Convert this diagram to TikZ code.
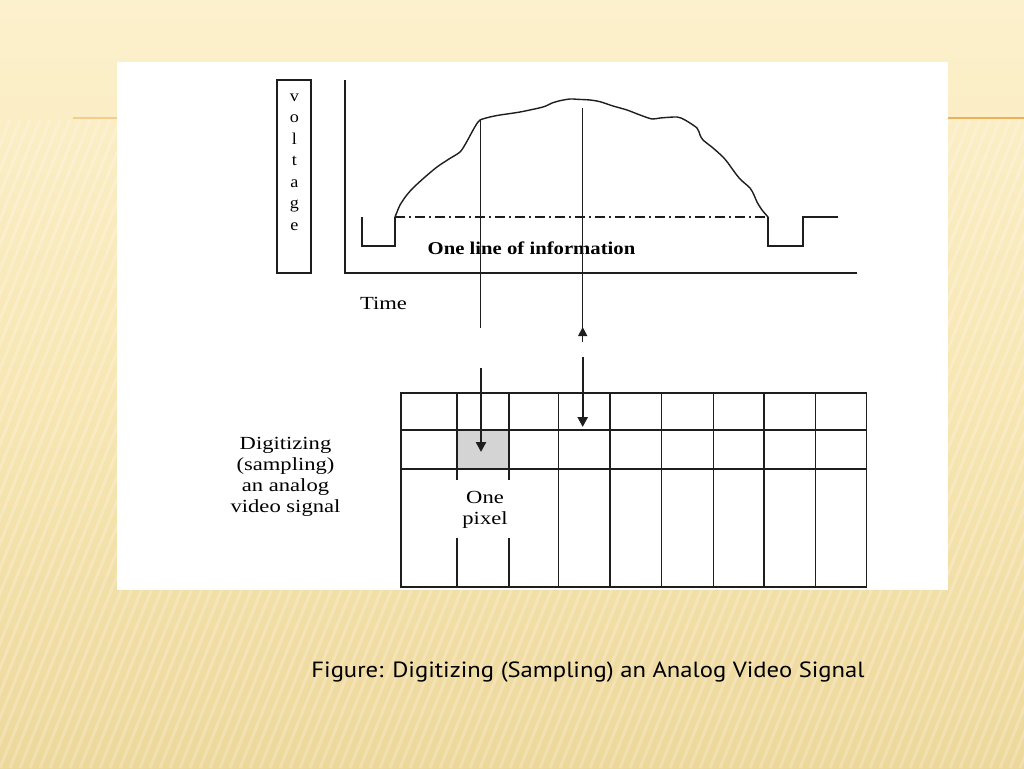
\documentclass[tikz,border=0pt]{standalone}
\usepackage{fontspec}
\setmainfont{Liberation Serif}
\newfontfamily\capfont{PT Sans}
\usetikzlibrary{arrows.meta}
\definecolor{bgtop}{HTML}{FCF1CD}
\definecolor{bgmid}{HTML}{F8E7B4}
\definecolor{bgbot}{HTML}{EDD89B}
\definecolor{rule}{HTML}{EBB25C}
\definecolor{ink}{HTML}{1E1E1E}
\definecolor{pixfill}{HTML}{D4D4D4}
\tikzset{
  thin ink/.style={draw=ink, line width=1.3pt},
  grid ink/.style={draw=ink, line width=1.5pt},
  fig text/.style={font=\fontsize{18.5}{21}\selectfont, xscale=1.22, align=center, inner sep=0pt, text=black},
  bold text/.style={font=\bfseries\fontsize{18}{21}\selectfont, xscale=1.15, inner sep=0pt, text=black},
  fat arrow/.style={draw=ink, line width=2.4pt, -{Triangle[length=10pt,width=10pt]}},
  stripe/.style={white, opacity=0.22, line width=3pt}
}
\begin{document}
\begin{tikzpicture}[x=1pt,y=-1pt]
\useasboundingbox (0,0) rectangle (1024,768);
% background
\shade[top color=bgtop, bottom color=bgbot, middle color=bgmid] (0,0) rectangle (1024,768);
\begin{scope}
\clip (0,120) rectangle (1024,768);
\foreach \s in {-300,-290,...,1030} {
  \draw[stripe] (\s,768) -- (\s+260,120);
}
\end{scope}
% orange rules
\draw[rule, line width=2pt, opacity=0.55] (73,118) -- (117,118);
\draw[rule, line width=2pt] (948,118) -- (1024,118);
% white panel
\fill[white] (117,62) rectangle (948,590);

% voltage box
\node[thin ink, minimum width=34pt, minimum height=193pt, inner sep=0pt] (vbox) at (294,176.5) {};
\node[font=\fontsize{16.5}{21.5}\selectfont, xscale=1.1, align=center, inner sep=0pt, text=black] (vlab) at (294.5,162) {v\\o\\l\\t\\a\\g\\e};

% axes
\coordinate (ytop) at (345,80);
\coordinate (orig) at (345,273);
\coordinate (xend) at (857,273);
\draw[thin ink] (ytop) -- (orig) -- (xend);

% signal
\coordinate (s0) at (362,217);
\coordinate (s1) at (362,246);
\coordinate (s2) at (395,246);
\coordinate (s3) at (395,217);
\coordinate (e0) at (768,217);
\coordinate (e1) at (768,246);
\coordinate (e2) at (803,246);
\coordinate (e3) at (803,217);
\coordinate (e4) at (838,217);
\draw[thin ink, line join=miter] (s0) -- (s1) -- (s2) -- (s3);
\draw[thin ink, line join=miter] (e0) -- (e1) -- (e2) -- (e3) -- (e4);
\draw[draw=ink, line width=1.1pt, dash pattern=on 10pt off 4pt on 2pt off 4pt] (s3) -- (e0);
\draw[draw=ink, line width=1.4pt] plot[smooth, tension=0.45] coordinates {
 (395,217) (397,212) (400,205) (406,196) (413,188) (425,177) (437,167) (449,159)
 (460,152) (466,143) (472,132) (476,125) (480,120) (490,117) (500,115) (520,112)
 (543,107) (552,103) (560,100.7) (570,99) (577,99.3) (590,100) (600,101.7) (613,106)
 (627,110) (640,115) (652,119) (660,118) (677,117) (685,120) (697,128) (700,135)
 (703,140) (713,148) (723,157) (728,163) (733,170) (740,179) (750,188) (754,195)
 (757,202) (762,210) (768,217)};

% labels
\node[bold text] (info) at (531.5,248) {One line of information};
\node[fig text] (time) at (383.5,303) {Time};

% sampling lines
\coordinate (l1top) at (480.5,120);
\coordinate (l1bot) at (480.5,328);
\coordinate (l2top) at (582.7,108);
\coordinate (l2bot) at (582.7,342);
\coordinate (l2tip) at (582.7,327);
\draw[thin ink] (l1top) -- (l1bot);
\draw[thin ink] (l2top) -- (l2bot);
\draw[draw=ink, line width=1.3pt, -{Triangle[length=9pt,width=9pt]}] (l2bot) -- (l2tip);

% grid
\fill[pixfill] (457,430) rectangle (509,469);
\draw[grid ink] (401,393) rectangle (866.7,587);
\draw[grid ink] (401,430) -- (866.7,430);
\draw[grid ink] (401,469) -- (866.7,469);
\foreach \c in {457,509,558.5,610,661.7,713.3,764,815.7} {
  \draw[grid ink] (\c,393) -- (\c,587);
}
\node[fill=white, minimum width=62pt, minimum height=58pt, inner sep=0pt] (pixbox) at (483,509) {};
\node[fig text] (pixlab) at (485,510) {One\\pixel};

% arrows into grid
\coordinate (a1s) at (481,368);
\coordinate (a1e) at (481,452);
\coordinate (a2s) at (582.7,357);
\coordinate (a2e) at (582.7,427);
\draw[fat arrow] (a1s) -- (a1e);
\draw[fat arrow] (a2s) -- (a2e);

\node[fig text] (dig) at (285.5,476.5) {Digitizing\\(sampling)\\an analog\\video signal};

% caption
\node[font=\capfont\fontsize{22}{24}\selectfont, text=black, inner sep=0pt] (cap) at (588,672) {\scalebox{1.12}[1]{Figure: Digitizing (Sampling) an Analog Video Signal}};
\end{tikzpicture}
\end{document}
